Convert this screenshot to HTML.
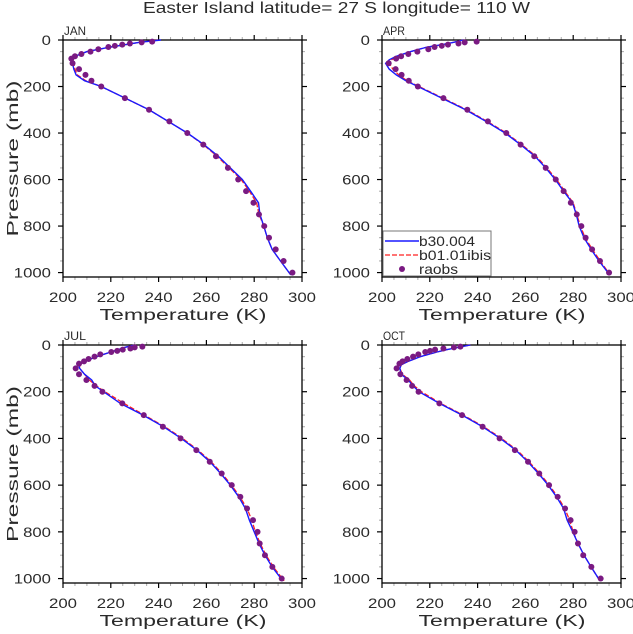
<!DOCTYPE html>
<html><head><meta charset="utf-8"><style>
body{margin:0;background:#fff;}
svg text{font-family:"Liberation Sans",sans-serif;fill:#2a2a2a;}
</style></head><body>
<svg id="c" width="633" height="629" xmlns="http://www.w3.org/2000/svg">
<text x="143" y="13" font-size="16" textLength="387" lengthAdjust="spacingAndGlyphs">Easter Island  latitude= 27 S longitude= 110 W</text>
</svg>
<script>
const obsP=[7,10,15,20,25,30,40,50,60,70,80,100,125,150,175,200,250,300,350,400,450,500,550,600,650,700,750,800,850,900,950,1000];
const janObs=[237.3,232.9,228,224.8,221.7,219,214.8,211.5,207.7,205,203.5,204,206.7,209.4,211.9,216,225.9,236,244.5,252,258.7,264,269,273.3,276.6,279.7,282,284.2,286.2,289,292.3,296];
const aprObs=[239.6,234.6,232,227.6,225,222,219.4,214.8,211,208,205.9,202.8,205.7,208.2,211.2,215,225.7,235.7,244.3,252,258,263.7,268.5,272.7,276,279,281.5,283.4,285.2,287.9,291.2,295];
const julObs=[233.2,230,228.2,225,222.7,220.2,215.6,213.2,210.7,208.8,206.7,205.3,206.7,209.8,213.2,216.5,224.8,233.8,241.8,249.2,255.8,261.4,266.4,270.6,274.2,277,279.5,281.4,282.3,284.5,287.6,291.5];
const octObs=[232.8,230.1,225.7,222.2,220.1,218.1,215.2,213,210.6,208.6,207.3,206.1,207.7,210.3,212.6,215.3,224,233.5,242.1,249.2,255.6,261.1,265.8,269.9,273.5,276.6,278.9,280.6,282,284.2,287.6,291.5];

const modP=[0,10,20,30,50,70,85,100,125,150,175,200,250,300,350,400,450,500,550,600,650,700,750,800,850,900,950,1010];
const janB30=[241,232,226,220,210,205,203.5,204,204.5,205.5,209,216,226,236,244,252,259,265,270,275,278.5,281.8,282.4,284,285.5,287.5,291,295.3];
const janIbis=[240,232,226,220,210,205,204,204.5,205,206,209.5,216,226,236,244,252,258.7,264.5,269.5,274.5,278,281,282,284,285.5,287.5,291,295.3];
const aprB30=[234,230,225,219,212,206,203,201.5,203,206,210,215,225,235,243.5,251.5,258,264,268.5,272.5,276,279.7,281.3,282.5,284.5,287.5,290.8,295.3];
const aprIbis=[234,230,225,219,212,206.5,204,203,204.5,207,210.5,215.5,225.5,235.5,244,252,258.5,264.5,269,273,276.5,280,281.5,283,285,288,291.3,295.5];
const julB30=[230,226,223,220,214,209,206.5,207,209,212,213.5,217,224,233.5,242,249.5,256,261.5,266,270,273.5,276.3,278,280,282,284.5,287.5,292];
const julIbis=[230,226,223,220,214,209,207,207,209,211,214,217.5,225.5,234,242.5,250,256.5,262,266.5,270.5,274,277,279,280.5,282.5,285,288,292.5];
const octB30=[237,232,227,223,216,211,208,207.5,208,211,213,215.5,224,233.5,242,249.5,256,261,265.5,269.5,273,276,277.5,279.8,282,284.5,287.5,291.2];
const octIbis=[237,232,227,223,216,211,208,207.5,208.5,211.5,213.5,216.5,224.5,234,242.5,250,256.5,261.5,266,270,273.5,276.5,278.5,280,282,284.5,287.5,291.2];

const xTicks=[200,220,240,260,280,300];
const yTicks=[0,200,400,600,800,1000];

const svg=document.getElementById('c');
const NS='http://www.w3.org/2000/svg';
function mk(tag,at,parent){const e=document.createElementNS(NS,tag);for(const k in at)e.setAttribute(k,at[k]);(parent||svg).appendChild(e);return e;}

const panels=[
 {name:'jan',label:'JAN',x0:63,x1:302,y0:40,y1:277,obs:janObs,b:janB30,r:janIbis,ylab:true},
 {name:'apr',label:'APR',x0:382,x1:621,y0:40,y1:277,obs:aprObs,b:aprB30,r:aprIbis,ylab:false,legend:true},
 {name:'jul',label:'JUL',x0:63,x1:302,y0:345,y1:583,obs:julObs,b:julB30,r:julIbis,ylab:true},
 {name:'oct',label:'OCT',x0:382,x1:621,y0:345,y1:583,obs:octObs,b:octB30,r:octIbis,ylab:false}
];
panels.forEach(p=>{
 const g=mk('g',{});
 
 
 const sx=t=>p.x0+(t-200)/100*(p.x1-p.x0);
 const s1000=p.y0+(p.y1-p.y0)*(1000/1019);
 const sy=v=>p.y0+v/1000*(s1000-p.y0);
 for(let t=205;t<300;t+=5){if(t%20===0)continue;const x=sx(t);
  const m1=mk('line',{x1:x,x2:x,y1:p.y1,y2:p.y1+3,stroke:'#aaa','stroke-width':1},g);
  const m2=mk('line',{x1:x,x2:x,y1:p.y0,y2:p.y0-3,stroke:'#aaa','stroke-width':1},g);}
 for(let v=50;v<=1000;v+=50){if(v%200===0)continue;const y=sy(v);
  const m1=mk('line',{x1:p.x0-3,x2:p.x0,y1:y,y2:y,stroke:'#aaa','stroke-width':1},g);
  const m2=mk('line',{x1:p.x1,x2:p.x1+3,y1:y,y2:y,stroke:'#aaa','stroke-width':1},g);}
 xTicks.forEach(t=>{const x=sx(t);
  const a=mk('line',{x1:x,x2:x,y1:p.y1,y2:p.y1+5,stroke:'#000','stroke-width':1.2},g);
  const b=mk('line',{x1:x,x2:x,y1:p.y0,y2:p.y0-5,stroke:'#000','stroke-width':1.2},g);
  const tx=mk('text',{x:x-14,y:p.y1+25,'font-size':13.5,textLength:28,lengthAdjust:'spacingAndGlyphs'},g);tx.textContent=t;});
 yTicks.forEach(v=>{const y=sy(v);
  const a=mk('line',{x1:p.x0-5,x2:p.x0,y1:y,y2:y,stroke:'#000','stroke-width':1.2},g);
  const b=mk('line',{x1:p.x1,x2:p.x1+5,y1:y,y2:y,stroke:'#000','stroke-width':1.2},g);
  const w=String(v).length*9.3;
  const tx=mk('text',{x:p.x0-12-w,y:y+5,'font-size':13.5,textLength:w,lengthAdjust:'spacingAndGlyphs'},g);tx.textContent=v;});
 const box=mk('rect',{x:p.x0,y:p.y0,width:p.x1-p.x0,height:p.y1-p.y0,fill:'none',stroke:'#000','stroke-width':1.3},g);
 
 const lb=mk('text',{x:p.x0+1,y:p.y0-5,'font-size':12,textLength:22,lengthAdjust:'spacingAndGlyphs'},g);lb.textContent=p.label;
 const xm=(p.x0+p.x1)/2;
 const xt=mk('text',{x:xm-83,y:p.y1+43,'font-size':15.5,textLength:167,lengthAdjust:'spacingAndGlyphs'},g);xt.textContent='Temperature (K)';
 if(p.ylab){const cy=(p.y0+p.y1)/2;const yt=mk('text',{x:12-78,y:cy+6,'font-size':15.5,textLength:156,lengthAdjust:'spacingAndGlyphs'},g);yt.setAttribute('transform','rotate(-90 12 '+cy+') translate('+(-cy+12)+' 0)');yt.textContent='Pressure (mb)';
  yt.setAttribute('x',cy-78);yt.setAttribute('y',cy+6);
  yt.setAttribute('transform','rotate(-90 '+cy+' '+cy+') translate(0 '+(12-cy)+')');
 }
 const path=arr=>arr.map((t,i)=>(i?'L':'M')+sx(t).toFixed(1)+' '+sy(modP[i]).toFixed(1)).join(' ');
 const rl=mk('path',{d:path(p.r),fill:'none',stroke:'#ff2020','stroke-width':1.3,'stroke-dasharray':'5 2'},g);
 const bl=mk('path',{d:path(p.b),fill:'none',stroke:'#1a1aff','stroke-width':1.4},g);
 p.obs.forEach((t,i)=>{const c=mk('circle',{cx:sx(t),cy:sy(obsP[i]),r:3,fill:'#7a1a82'},g);});
 if(p.legend){const lg=mk('g',{},g);
  mk('rect',{x:p.x0+1,y:231,width:108,height:45,fill:'#fff',stroke:'#777','stroke-width':1},lg);
  const l1=mk('line',{x1:p.x0+3,x2:p.x0+37,y1:241,y2:241,stroke:'#1a1aff','stroke-width':1.4},lg);
  const t1=mk('text',{x:p.x0+37,y:246,'font-size':14,textLength:56,lengthAdjust:'spacingAndGlyphs'},lg);t1.textContent='b30.004';
  const l2=mk('line',{x1:p.x0+3,x2:p.x0+37,y1:255,y2:255,stroke:'#ff2020','stroke-width':1.3,'stroke-dasharray':'5 2'},lg);
  const t2=mk('text',{x:p.x0+37,y:260,'font-size':14,textLength:72,lengthAdjust:'spacingAndGlyphs'},lg);t2.textContent='b01.01ibis';
  const c3=mk('circle',{cx:p.x0+20,cy:269,r:3,fill:'#7a1a82'},lg);
  const t3=mk('text',{x:p.x0+37,y:274,'font-size':14,textLength:39,lengthAdjust:'spacingAndGlyphs'},lg);t3.textContent='raobs';}
});
</script>
</body></html>
